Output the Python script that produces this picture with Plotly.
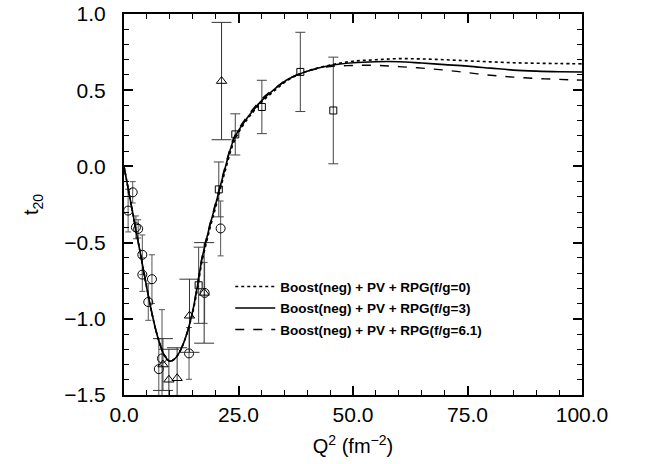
import plotly.graph_objects as go

# Theory curves
q2_curve = [0, 1, 2, 3, 4, 5, 6, 7, 8, 9, 10, 11, 12, 13, 14, 15, 16, 17, 18, 19, 20,
            22, 24, 26, 28, 30, 33, 36, 40, 45, 50, 55, 60, 65, 70, 75, 80, 85, 90, 95, 100]
t20_fg0 = [0.0, -0.16, -0.32, -0.48, -0.64, -0.80, -0.95, -1.08, -1.18, -1.25, -1.278, -1.265,
           -1.225, -1.16, -1.07, -0.96, -0.81, -0.63, -0.50, -0.38, -0.27,
           -0.04, 0.16, 0.27, 0.35, 0.42, 0.50, 0.57, 0.625, 0.665, 0.69, 0.70, 0.707,
           0.705, 0.70, 0.693, 0.686, 0.68, 0.677, 0.675, 0.673]
t20_fg3 = [0.0, -0.16, -0.32, -0.48, -0.64, -0.80, -0.95, -1.08, -1.18, -1.25, -1.278, -1.265,
           -1.225, -1.16, -1.07, -0.95, -0.79, -0.61, -0.48, -0.36, -0.25,
           -0.02, 0.18, 0.28, 0.36, 0.43, 0.51, 0.575, 0.625, 0.662, 0.68, 0.687, 0.687,
           0.678, 0.668, 0.658, 0.645, 0.632, 0.625, 0.621, 0.619]
t20_fg61 = [0.0, -0.16, -0.32, -0.48, -0.64, -0.80, -0.95, -1.08, -1.18, -1.25, -1.278, -1.265,
            -1.225, -1.16, -1.07, -0.95, -0.78, -0.60, -0.47, -0.35, -0.24,
            -0.01, 0.19, 0.29, 0.37, 0.44, 0.515, 0.578, 0.625, 0.655, 0.662, 0.663, 0.655,
            0.645, 0.632, 0.615, 0.598, 0.586, 0.577, 0.571, 0.566]

# Experimental data: circles
q2_circ = [0.9, 1.9, 2.6, 3.1, 4.0, 4.0, 6.1, 5.3, 7.6, 8.3, 14.2, 17.6, 21.1]
t20_circ = [-0.29, -0.17, -0.40, -0.41, -0.58, -0.71, -0.74, -0.89, -1.33, -1.26, -1.227, -0.83, -0.407]
err_circ = [0.14, 0.07, 0.075, 0.06, 0.13, 0.11, 0.16, 0.12, 0.2, 0.32, 0.17, 0.2, 0.18]

# triangles
q2_tri = [8.5, 9.8, 11.6, 14.3, 17.5, 21.3]
t20_tri = [-1.30, -1.40, -1.39, -0.98, -0.83, 0.56]
err_tri = [0.17, 0.2, 0.2, 0.24, 0.33, 0.385]

# squares
q2_sq = [16.3, 20.7, 24.3, 30.1, 38.5, 45.7]
t20_sq = [-0.78, -0.151, 0.21, 0.39, 0.62, 0.367]
err_sq = [0.25, 0.18, 0.135, 0.175, 0.26, 0.35]

x_ticks = [0, 25, 50, 75, 100]
y_ticks = [-1.5, -1.0, -0.5, 0.0, 0.5, 1.0]

legend_names = ["Boost(neg) + PV + RPG(f/g=0)",
                "Boost(neg) + PV + RPG(f/g=3)",
                "Boost(neg) + PV + RPG(f/g=6.1)"]

FONT = "Liberation Sans, Arial, sans-serif"

fig = go.Figure()

fig.add_trace(go.Scatter(x=q2_circ, y=t20_circ, mode="markers", showlegend=False,
                         marker=dict(symbol="circle-open", size=9, color="black", line=dict(width=1)),
                         error_y=dict(type="data", array=err_circ, color="#555555", thickness=1, width=3)))
fig.add_trace(go.Scatter(x=q2_tri, y=t20_tri, mode="markers", showlegend=False,
                         marker=dict(symbol="triangle-up-open", size=9, color="black", line=dict(width=1)),
                         error_y=dict(type="data", array=err_tri, color="#333333", thickness=1, width=10)))
fig.add_trace(go.Scatter(x=q2_sq, y=t20_sq, mode="markers", showlegend=False,
                         marker=dict(symbol="square-open", size=7, color="black", line=dict(width=1)),
                         error_y=dict(type="data", array=err_sq, color="#444444", thickness=1, width=5)))

curve_sets = [(t20_fg0, "dot", 1.6), (t20_fg3, "solid", 1.6), (t20_fg61, "dash", 1.4)]
for i, (vals, dash, w) in enumerate(curve_sets):
    fig.add_trace(go.Scatter(x=q2_curve, y=vals, mode="lines",
                             name="<b>" + legend_names[i] + "</b>", legendgroup="g%d" % i,
                             line=dict(color="black", width=w, dash=dash, shape="spline")))

axis_common = dict(showline=True, linecolor="black", linewidth=2, mirror="allticks",
                   ticks="inside", ticklen=9, tickwidth=1.5, tickcolor="black",
                   showgrid=False, zeroline=False, automargin=False,
                   ticklabeloverflow="allow",
                   tickfont=dict(family=FONT, size=21, color="black"))

fig.update_xaxes(range=[0, 100], tickvals=x_ticks, tickformat=".1f",
                 minor=dict(dtick=5, ticks="inside", ticklen=5, tickcolor="black", tickwidth=1),
                 title=dict(text="Q<sup>2</sup> (fm<sup>−2</sup>)",
                            font=dict(family=FONT, size=20, color="black"),
                            standoff=14),
                 **axis_common)
fig.update_yaxes(range=[-1.5, 1.0], tickvals=y_ticks, tickformat=".1f",
                 ticklabelstandoff=12,
                 minor=dict(dtick=0.1, ticks="inside", ticklen=5, tickcolor="black", tickwidth=1),
                 title=dict(text="t<sub>20</sub>",
                            font=dict(family=FONT, size=20, color="black"),
                            standoff=20),
                 **axis_common)

fig.update_layout(
    width=649, height=464,
    margin=dict(l=124, r=67, t=14, b=69),
    paper_bgcolor="white", plot_bgcolor="white",
    legend=dict(x=0.232, y=0.325, xanchor="left", yanchor="top",
                bgcolor="rgba(0,0,0,0)", borderwidth=0,
                font=dict(family=FONT, size=13.5, color="black"),
                itemwidth=40, tracegroupgap=1),
)

fig.write_html("out.html", config={"displayModeBar": False},
               post_script="document.body.style.margin='0';")
